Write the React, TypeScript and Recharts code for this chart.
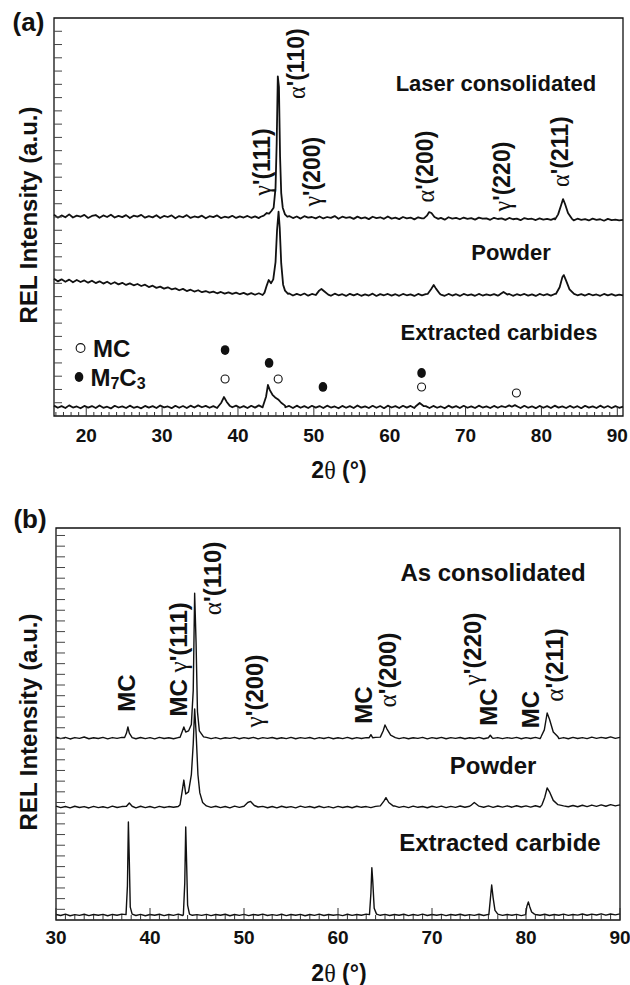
import React from "react";
import { ComposedChart, Line, Scatter, XAxis, YAxis, ReferenceArea } from "recharts";

const SANS = '"Liberation Sans", Arial, Helvetica, sans-serif';
const SERIF = '"Liberation Serif", "Times New Roman", Times, serif';
const INK = "#111";
const STEP = 0.5;

// ---------- panel (a) ----------
const A_DOMAIN: [number, number] = [15.75, 90.75];
const A_Y_MAX = 30;
const A_X0 = 15.75;
const aXLabels = [20, 30, 40, 50, 60, 70, 80, 90];

const laserBase = [
  15.18, 14.95, 15.12, 14.98, 15.2, 14.96, 15.1, 15.02, 15.16, 14.93,
  15.08, 15.15, 14.94, 15.12, 15.0, 15.17, 14.96, 15.09, 14.99, 15.14,
  14.92, 15.1, 15.03, 15.16, 14.95, 15.06, 14.97, 15.13, 14.92, 15.08,
  15.0, 15.12, 14.9, 15.07, 14.98, 15.14, 14.93, 15.04, 14.97, 15.1,
  14.9, 15.06, 14.99, 15.12, 14.92, 15.02, 14.95, 15.09, 14.93, 15.05,
  14.96, 15.08, 14.94, 15.05, 14.92, 15.06, 14.95, 15.07, 14.9, 15.04,
  15.02, 14.9, 15.07, 14.92, 15.04, 14.88, 15.06, 14.95, 15.0, 14.9,
  15.04, 14.89, 15.0, 14.93, 15.07, 14.87, 15.02, 14.94, 14.99, 14.86,
  15.03, 14.9, 14.97, 14.84, 15.02, 14.92, 14.98, 14.86, 15.04, 14.88,
  14.95, 14.84, 15.0, 14.9, 14.96, 14.82, 14.98, 14.9, 15.0, 14.9,
  14.97, 14.85, 14.93, 14.8, 14.98, 14.88, 14.94, 14.83, 14.96, 14.86,
  14.91, 14.8, 14.95, 14.87, 14.9, 14.79, 14.94, 14.85, 14.9, 14.78,
  14.93, 14.83, 14.88, 14.76, 14.92, 14.84, 14.87, 14.77, 14.9, 14.8,
  14.86, 14.78, 14.9, 14.8, 14.9, 14.8, 14.88, 14.75, 14.87, 14.79,
  14.84, 14.74, 14.88, 14.79, 14.83, 14.72, 14.86, 14.77, 14.8, 14.74,
  14.78,
];
const laserPeaks = [
  [[43.0, 15.02], [43.4, 15.1], [43.8, 15.3], [44.1, 15.25], [44.4, 15.45], [44.7, 15.7], [44.95, 17.2], [45.1, 20.5], [45.25, 25.6], [45.4, 24.8], [45.55, 19.5], [45.7, 16.8], [45.9, 15.7], [46.2, 15.2], [46.5, 15.02]],
  [[64.5, 14.9], [64.9, 15.1], [65.2, 15.37], [65.5, 15.3], [65.9, 15.0], [66.4, 14.86]],
  [[81.8, 14.82], [82.2, 15.2], [82.6, 15.9], [82.85, 16.35], [83.1, 16.0], [83.5, 15.3], [84.0, 14.88]],
];

const powderBaseA = [
  10.35, 10.15, 10.3, 10.12, 10.28, 10.08, 10.25, 10.1, 10.22, 10.05,
  10.2, 10.02, 10.15, 9.98, 10.12, 9.95, 10.08, 9.92, 10.04, 9.88,
  10.0, 9.85, 9.95, 9.8, 9.9, 9.72, 9.82, 9.66, 9.75, 9.6,
  9.7, 9.55, 9.62, 9.48, 9.58, 9.42, 9.52, 9.38, 9.48, 9.33,
  9.42, 9.3, 9.38, 9.25, 9.35, 9.22, 9.32, 9.2, 9.3, 9.18,
  9.28, 9.15, 9.26, 9.14, 9.25, 9.12, 9.24, 9.1, 9.22, 9.12,
  9.22, 9.1, 9.24, 9.08, 9.2, 9.1, 9.23, 9.07, 9.2, 9.12,
  9.22, 9.08, 9.19, 9.06, 9.22, 9.1, 9.18, 9.05, 9.21, 9.09,
  9.2, 9.06, 9.17, 9.08, 9.22, 9.05, 9.19, 9.1, 9.2, 9.07,
  9.18, 9.06, 9.2, 9.1, 9.17, 9.05, 9.2, 9.09, 9.18, 9.08,
  9.2, 9.07, 9.15, 9.06, 9.2, 9.08, 9.18, 9.05, 9.2, 9.1,
  9.17, 9.06, 9.2, 9.08, 9.16, 9.1, 9.18, 9.07, 9.19, 9.1,
  9.2, 9.06, 9.18, 9.1, 9.2, 9.07, 9.17, 9.05, 9.2, 9.1,
  9.18, 9.07, 9.2, 9.08, 9.17, 9.06, 9.19, 9.08, 9.1, 9.18,
  9.08, 9.2, 9.1, 9.16, 9.06, 9.2, 9.09, 9.18, 9.07, 9.15,
  9.1,
];
const powderPeaksA = [
  [[43.5, 9.3], [43.8, 9.85], [44.05, 10.25], [44.35, 10.0], [44.65, 10.3], [44.95, 11.6], [45.15, 14.0], [45.35, 15.4], [45.5, 14.2], [45.7, 11.5], [45.95, 9.9], [46.2, 9.45], [46.6, 9.2]],
  [[50.3, 9.15], [50.7, 9.45], [51.0, 9.57], [51.4, 9.38], [51.9, 9.15]],
  [[65.0, 9.2], [65.45, 9.55], [65.8, 9.87], [66.1, 9.6], [66.6, 9.22]],
  [[74.5, 9.15], [75.0, 9.35], [75.5, 9.15]],
  [[81.9, 9.2], [82.4, 9.7], [82.75, 10.45], [82.95, 10.62], [83.25, 10.2], [83.7, 9.55], [84.3, 9.2]],
];

const carbideBaseA = [
  0.78, 0.62, 0.74, 0.6, 0.8, 0.64, 0.72, 0.58, 0.76, 0.63,
  0.75, 0.6, 0.79, 0.62, 0.7, 0.57, 0.77, 0.64, 0.73, 0.6,
  0.78, 0.62, 0.7, 0.58, 0.76, 0.63, 0.74, 0.6, 0.79, 0.65,
  0.72, 0.59, 0.77, 0.62, 0.75, 0.6, 0.78, 0.64, 0.8, 0.66,
  0.76, 0.62, 0.74, 0.6, 0.78, 0.63, 0.75, 0.66, 0.78, 0.62,
  0.74, 0.6, 0.77, 0.63, 0.8, 0.65, 0.73, 0.6, 0.76, 0.62,
  0.8, 0.66, 0.76, 0.6, 0.78, 0.62, 0.74, 0.6, 0.77, 0.63,
  0.75, 0.6, 0.78, 0.64, 0.72, 0.58, 0.76, 0.62, 0.74, 0.6,
  0.79, 0.63, 0.73, 0.6, 0.77, 0.62, 0.75, 0.59, 0.78, 0.64,
  0.74, 0.6, 0.77, 0.63, 0.76, 0.6, 0.75, 0.62, 0.74, 0.6,
  0.76, 0.62, 0.72, 0.58, 0.78, 0.63, 0.74, 0.6, 0.77, 0.62,
  0.73, 0.6, 0.78, 0.64, 0.72, 0.6, 0.76, 0.62, 0.75, 0.66,
  0.8, 0.68, 0.74, 0.6, 0.77, 0.62, 0.73, 0.59, 0.76, 0.62,
  0.74, 0.6, 0.78, 0.63, 0.72, 0.6, 0.76, 0.62, 0.74, 0.59,
  0.77, 0.63, 0.73, 0.6, 0.78, 0.62, 0.75, 0.6, 0.74, 0.62,
  0.7,
];
const carbidePeaksA = [
  [[37.4, 0.72], [37.8, 1.0], [38.15, 1.43], [38.5, 1.08], [38.9, 0.78]],
  [[43.3, 0.75], [43.7, 1.45], [43.95, 2.34], [44.2, 1.95], [44.55, 1.6], [44.9, 1.4], [45.3, 1.25], [45.7, 1.0], [46.2, 0.78]],
  [[63.4, 0.72], [63.95, 0.98], [64.5, 0.74]],
  [[76.1, 0.7], [76.5, 0.82], [76.9, 0.7]],
];

// carbide phase markers over the extracted-carbide trace
const mcMarkersA = [
  { x: 38.3, y: 2.79 },
  { x: 45.3, y: 2.79 },
  { x: 64.2, y: 2.19 },
  { x: 76.7, y: 1.73 },
];
const m7c3MarkersA = [
  { x: 38.3, y: 4.97 },
  { x: 44.1, y: 4.0 },
  { x: 51.2, y: 2.19 },
  { x: 64.2, y: 3.24 },
];
const legendMarkersA = [
  { x: 19.25, y: 5.12, filled: false },
  { x: 19.05, y: 2.94, filled: true },
];
const legendTextA = [
  { x: 20.9, y: 5.12, text: "MC" },
  { x: 20.55, y: 2.94, text: "M7C3" },
];

const peakLabelsA = [
  { x: 43.15, y: 19.14, text: "γ'(111)" },
  { x: 47.6, y: 26.56, text: "α'(110)" },
  { x: 49.75, y: 18.42, text: "γ'(200)" },
  { x: 64.65, y: 18.8, text: "α'(200)" },
  { x: 74.8, y: 18.05, text: "γ'(220)" },
  { x: 82.45, y: 19.93, text: "α'(211)" },
];
const sampleLabelsA = [
  { x: 74.0, y: 25.1, text: "Laser consolidated" },
  { x: 76.0, y: 12.36, text: "Powder" },
  { x: 74.4, y: 6.33, text: "Extracted carbides" },
];

// ---------- panel (b) ----------
const B_DOMAIN: [number, number] = [30, 90];
const B_Y_MAX = 36.7;
const B_X0 = 30;
const bXLabels = [30, 40, 50, 60, 70, 80, 90];

const acBase = [
  17.12, 16.98, 17.1, 16.95, 17.08, 17.0, 17.13, 16.97, 17.06, 16.99,
  17.1, 16.96, 17.08, 17.0, 17.1, 16.98, 17.05, 16.97, 17.09, 16.98,
  17.07, 16.96, 17.1, 16.99, 17.06, 16.97, 17.08, 16.98, 17.1, 16.97,
  17.08, 16.98, 17.1, 16.98, 17.08, 16.96, 17.06, 17.0, 17.1, 16.97,
  17.08, 16.99, 17.1, 16.96, 17.07, 17.0, 17.09, 16.97, 17.06, 16.98,
  17.1, 16.97, 17.07, 17.0, 17.09, 16.96, 17.08, 16.99, 17.1, 16.97,
  17.06, 16.98, 17.1, 16.97, 17.08, 16.99, 17.07, 16.98, 17.1, 16.97,
  17.08, 16.98, 17.1, 16.98, 17.08, 16.97, 17.06, 17.0, 17.1, 16.96,
  17.08, 16.99, 17.1, 16.97, 17.07, 17.0, 17.09, 16.97, 17.06, 16.99,
  17.1, 16.97, 17.08, 17.0, 17.08, 16.98, 17.07, 17.0, 17.1, 16.97,
  17.08, 16.99, 17.1, 16.98, 17.07, 16.97, 17.1, 16.98, 17.08, 16.97,
  17.1, 16.99, 17.07, 16.98, 17.12, 17.0, 17.1, 17.02, 17.14, 17.0,
  17.1,
];
const acPeaks = [
  [[37.3, 17.08], [37.5, 17.5], [37.65, 18.07], [37.8, 17.5], [38.1, 17.08]],
  [[43.2, 17.1], [43.45, 17.7], [43.6, 18.07], [43.8, 17.6], [44.1, 17.7], [44.4, 18.3], [44.6, 21.5], [44.75, 30.6], [44.9, 26.0], [45.05, 19.5], [45.25, 17.7], [45.7, 17.15]],
  [[63.3, 17.06], [63.5, 17.35], [63.7, 17.06]],
  [[64.5, 17.12], [64.8, 17.7], [65.0, 18.26], [65.2, 17.9], [65.6, 17.3], [66.1, 17.08]],
  [[76.0, 17.06], [76.2, 17.3], [76.4, 17.06]],
  [[81.6, 17.15], [81.95, 17.8], [82.25, 19.38], [82.5, 18.8], [82.9, 17.6], [83.4, 17.15]],
];

const pbBase = [
  10.66, 10.52, 10.63, 10.5, 10.65, 10.53, 10.62, 10.49, 10.64, 10.52,
  10.6, 10.5, 10.66, 10.53, 10.62, 10.51, 10.6, 10.5, 10.65, 10.52,
  10.63, 10.5, 10.64, 10.53, 10.62, 10.55, 10.63, 10.52, 10.64, 10.53,
  10.62, 10.54, 10.65, 10.55, 10.65, 10.52, 10.63, 10.5, 10.66, 10.54,
  10.64, 10.52, 10.65, 10.55, 10.64, 10.51, 10.63, 10.5, 10.65, 10.53,
  10.62, 10.5, 10.66, 10.54, 10.63, 10.51, 10.65, 10.52, 10.62, 10.5,
  10.64, 10.53, 10.63, 10.51, 10.65, 10.55, 10.62, 10.52, 10.64, 10.53,
  10.65, 10.53, 10.68, 10.54, 10.64, 10.52, 10.66, 10.55, 10.63, 10.51,
  10.65, 10.54, 10.66, 10.52, 10.64, 10.55, 10.67, 10.56, 10.65, 10.55,
  10.66, 10.56, 10.68, 10.55, 10.67, 10.57, 10.69, 10.56, 10.7, 10.58,
  10.68, 10.57, 10.7, 10.58, 10.69, 10.57, 10.7, 10.59, 10.7, 10.6,
  10.72, 10.6, 10.74, 10.62, 10.76, 10.64, 10.78, 10.65, 10.8, 10.68,
  10.78,
];
const pbPeaks = [
  [[37.5, 10.65], [37.8, 10.95], [38.1, 10.65]],
  [[43.2, 10.8], [43.45, 12.2], [43.6, 13.1], [43.8, 11.8], [44.1, 12.0], [44.4, 13.6], [44.6, 16.5], [44.75, 19.76], [44.9, 17.6], [45.1, 13.6], [45.3, 11.9], [45.6, 11.0], [46.0, 10.68]],
  [[50.0, 10.65], [50.4, 11.0], [50.7, 11.1], [51.1, 10.72], [51.5, 10.58]],
  [[64.5, 10.68], [64.9, 11.15], [65.1, 11.45], [65.4, 11.0], [65.9, 10.66]],
  [[74.1, 10.7], [74.5, 11.0], [74.9, 10.72]],
  [[81.7, 10.78], [82.0, 11.5], [82.25, 12.36], [82.5, 12.0], [82.9, 11.2], [83.4, 10.8], [84.0, 10.68]],
];

const ebBase = [
  0.52, 0.42, 0.55, 0.4, 0.5, 0.43, 0.54, 0.41, 0.51, 0.44,
  0.53, 0.4, 0.52, 0.45, 0.55, 0.42, 0.5, 0.42, 0.53, 0.4,
  0.51, 0.44, 0.54, 0.41, 0.52, 0.43, 0.55, 0.42, 0.52, 0.44,
  0.5, 0.43, 0.53, 0.41, 0.52, 0.44, 0.54, 0.4, 0.51, 0.43,
  0.53, 0.41, 0.52, 0.44, 0.55, 0.42, 0.5, 0.43, 0.54, 0.41,
  0.52, 0.44, 0.53, 0.4, 0.51, 0.43, 0.55, 0.42, 0.52, 0.44,
  0.5, 0.41, 0.54, 0.43, 0.52, 0.45, 0.55, 0.42, 0.53, 0.44,
  0.53, 0.42, 0.51, 0.44, 0.54, 0.41, 0.52, 0.43, 0.55, 0.42,
  0.51, 0.44, 0.53, 0.41, 0.52, 0.45, 0.54, 0.42, 0.5, 0.43,
  0.54, 0.42, 0.53, 0.44, 0.52, 0.43, 0.52, 0.44, 0.53, 0.41,
  0.55, 0.43, 0.52, 0.44, 0.54, 0.42, 0.51, 0.45, 0.55, 0.43,
  0.52, 0.46, 0.56, 0.44, 0.55, 0.47, 0.58, 0.45, 0.56, 0.48,
  0.57,
];
const ebPeaks = [
  [[37.45, 0.5], [37.6, 3.2], [37.7, 9.18], [37.8, 5.5], [37.9, 1.2], [38.1, 0.55]],
  [[43.55, 0.5], [43.7, 3.5], [43.8, 8.7], [43.9, 5.2], [44.0, 1.4], [44.2, 0.55]],
  [[63.35, 0.5], [63.5, 2.5], [63.6, 4.9], [63.7, 3.6], [63.85, 1.1], [64.1, 0.55]],
  [[76.05, 0.5], [76.2, 1.9], [76.35, 3.28], [76.5, 2.1], [76.7, 0.9], [77.0, 0.55]],
  [[79.95, 0.5], [80.1, 1.3], [80.25, 1.69], [80.4, 1.25], [80.6, 0.75], [80.9, 0.55]],
];

const peakLabelsB = [
  { x: 37.45, y: 21.25, text: "MC" },
  { x: 42.98, y: 24.4, text: "MC γ'(111)" },
  { x: 46.6, y: 31.98, text: "α'(110)" },
  { x: 51.06, y: 21.44, text: "γ'(200)" },
  { x: 62.66, y: 20.13, text: "MC" },
  { x: 65.21, y: 23.4, text: "α'(200)" },
  { x: 74.26, y: 25.37, text: "γ'(220)" },
  { x: 75.96, y: 19.94, text: "MC" },
  { x: 80.43, y: 19.71, text: "MC" },
  { x: 82.98, y: 23.88, text: "α'(211)" },
];
const sampleLabelsB = [
  { x: 76.5, y: 32.49, text: "As consolidated" },
  { x: 76.5, y: 14.51, text: "Powder" },
  { x: 77.23, y: 7.3, text: "Extracted carbide" },
];

// ---------- helpers ----------
type Pt = { x: number; y: number };

function buildTrace(x0: number, base: number[], peaks: number[][][]): Pt[] {
  const ranges = peaks.map((seg) => [seg[0][0], seg[seg.length - 1][0]]);
  const pts: Pt[] = base
    .map((y, i) => ({ x: x0 + i * STEP, y }))
    .filter((p) => !ranges.some(([a, b]) => p.x >= a && p.x <= b));
  peaks.forEach((seg) => seg.forEach(([x, y]) => pts.push({ x, y })));
  return pts.sort((p, q) => p.x - q.x);
}

function intRange(from: number, to: number) {
  const out: number[] = [];
  for (let v = from; v <= to; v++) out.push(v);
  return out;
}

function textParts(text: string, size: number) {
  return text
    .split(/([αγθ])/)
    .filter(Boolean)
    .map((t, i) =>
      /[αγθ]/.test(t) ? (
        <tspan key={i} fontFamily={SERIF} fontWeight="normal" fontSize={size * 1.05}>
          {t}
        </tspan>
      ) : (
        <tspan key={i} fontFamily={SANS} fontWeight="bold">
          {t}
        </tspan>
      )
    );
}

function XTick(props: any) {
  const { x, y, payload, majorLen, minorLen, labelDy, labels } = props;
  const v = payload.value;
  const major = labels.includes(v);
  return (
    <g>
      <line x1={x} x2={x} y1={y} y2={y - (major ? majorLen : minorLen)} stroke="#333" strokeWidth={1} />
      {major && (
        <text
          x={x}
          y={y + labelDy}
          textAnchor="middle"
          dominantBaseline="central"
          fontFamily={SANS}
          fontWeight="bold"
          fontSize={19}
          fill={INK}
        >
          {v}
        </text>
      )}
    </g>
  );
}

function YTick(props: any) {
  const { x, y, len } = props;
  return <line x1={x} x2={x + len} y1={y} y2={y} stroke="#444" strokeWidth={1} />;
}

function RotLabel(props: any) {
  const { cx, cy, payload, size } = props;
  return (
    <text
      transform={`rotate(-90 ${cx} ${cy})`}
      x={cx}
      y={cy}
      textAnchor="middle"
      dominantBaseline="central"
      fontSize={size}
      fill={INK}
    >
      {textParts(payload.text, size)}
    </text>
  );
}

function FlatLabel(props: any) {
  const { cx, cy, payload, size } = props;
  return (
    <text
      x={cx}
      y={cy}
      textAnchor="middle"
      dominantBaseline="central"
      fontFamily={SANS}
      fontWeight="bold"
      fontSize={size}
      fill={INK}
    >
      {payload.text}
    </text>
  );
}

function LegendText(props: any) {
  const { cx, cy, payload } = props;
  const bits = payload.text.split(/(\d)/).filter(Boolean);
  return (
    <text x={cx} y={cy} dominantBaseline="central" fontFamily={SANS} fontWeight="bold" fontSize={24} fill={INK}>
      {bits.map((b: string, i: number) =>
        /\d/.test(b) ? (
          <tspan key={i} fontSize={16} dy={6}>
            {b}
          </tspan>
        ) : (
          <tspan key={i} dy={i === 0 ? 0 : -6}>
            {b}
          </tspan>
        )
      )}
    </text>
  );
}

const OpenMark = (p: any) => <circle cx={p.cx} cy={p.cy} r={4} fill="#fff" stroke={INK} strokeWidth={1.1} />;
const FilledMark = (p: any) => <ellipse cx={p.cx} cy={p.cy} rx={4.3} ry={4.9} fill={INK} />;
const LegendMark = (p: any) =>
  p.payload.filled ? (
    <ellipse cx={p.cx} cy={p.cy} rx={4.3} ry={5} fill={INK} />
  ) : (
    <circle cx={p.cx} cy={p.cy} r={4.4} fill="#fff" stroke={INK} strokeWidth={1.1} />
  );

const laserA = buildTrace(A_X0, laserBase, laserPeaks);
const powderA = buildTrace(A_X0, powderBaseA, powderPeaksA);
const carbideA = buildTrace(A_X0, carbideBaseA, carbidePeaksA);
const consolidatedB = buildTrace(B_X0, acBase, acPeaks);
const powderB = buildTrace(B_X0, pbBase, pbPeaks);
const carbideB = buildTrace(B_X0, ebBase, ebPeaks);

const traceProps = {
  type: "linear" as const,
  dataKey: "y",
  stroke: INK,
  dot: false,
  activeDot: false,
  isAnimationActive: false,
  strokeLinejoin: "round" as const,
};

function PanelA() {
  return (
    <ComposedChart width={630} height={480} margin={{ top: 18, right: 7, bottom: 34, left: 53 }}>
      <XAxis
        type="number"
        dataKey="x"
        domain={A_DOMAIN}
        ticks={intRange(16, 90)}
        interval={0}
        axisLine={false}
        tickLine={false}
        tickSize={0}
        tickMargin={0}
        height={30}
        tick={(p: any) => <XTick {...p} labels={aXLabels} majorLen={9} minorLen={4} labelDy={19} />}
      />
      <YAxis
        type="number"
        dataKey="y"
        domain={[0, A_Y_MAX]}
        ticks={intRange(1, A_Y_MAX - 1)}
        interval={0}
        axisLine={false}
        tickLine={false}
        tickSize={0}
        tickMargin={0}
        width={1}
        tick={(p: any) => <YTick {...p} len={8} />}
      />
      <ReferenceArea x1={A_DOMAIN[0]} x2={A_DOMAIN[1]} y1={0} y2={A_Y_MAX} fill="none" stroke={INK} strokeWidth={1.3} />
      <Line {...traceProps} strokeWidth={1.8} data={laserA} />
      <Line {...traceProps} strokeWidth={1.8} data={powderA} />
      <Line {...traceProps} strokeWidth={1.8} data={carbideA} />
      <Scatter data={mcMarkersA} dataKey="y" shape={OpenMark} isAnimationActive={false} />
      <Scatter data={m7c3MarkersA} dataKey="y" shape={FilledMark} isAnimationActive={false} />
      <Scatter data={legendMarkersA} dataKey="y" shape={LegendMark} isAnimationActive={false} />
      <Scatter data={legendTextA} dataKey="y" shape={(p: any) => <LegendText {...p} />} isAnimationActive={false} />
      <Scatter data={peakLabelsA} dataKey="y" shape={(p: any) => <RotLabel {...p} size={23} />} isAnimationActive={false} />
      <Scatter data={sampleLabelsA} dataKey="y" shape={(p: any) => <FlatLabel {...p} size={22} />} isAnimationActive={false} />
    </ComposedChart>
  );
}

function PanelB() {
  return (
    <ComposedChart width={630} height={495} margin={{ top: 38, right: 10, bottom: 35, left: 55 }}>
      <XAxis
        type="number"
        dataKey="x"
        domain={B_DOMAIN}
        ticks={intRange(30, 90)}
        interval={0}
        axisLine={false}
        tickLine={false}
        tickSize={0}
        tickMargin={0}
        height={30}
        tick={(p: any) => <XTick {...p} labels={bXLabels} majorLen={12} minorLen={5} labelDy={17} />}
      />
      <YAxis
        type="number"
        dataKey="y"
        domain={[0, B_Y_MAX]}
        ticks={intRange(1, 36)}
        interval={0}
        axisLine={false}
        tickLine={false}
        tickSize={0}
        tickMargin={0}
        width={1}
        tick={(p: any) => <YTick {...p} len={9} />}
      />
      <ReferenceArea x1={B_DOMAIN[0]} x2={B_DOMAIN[1]} y1={0} y2={B_Y_MAX} fill="none" stroke={INK} strokeWidth={1.3} />
      <Line {...traceProps} strokeWidth={1.4} data={consolidatedB} />
      <Line {...traceProps} strokeWidth={1.4} data={powderB} />
      <Line {...traceProps} strokeWidth={1.4} data={carbideB} />
      <Scatter data={peakLabelsB} dataKey="y" shape={(p: any) => <RotLabel {...p} size={24} />} isAnimationActive={false} />
      <Scatter data={sampleLabelsB} dataKey="y" shape={(p: any) => <FlatLabel {...p} size={24} />} isAnimationActive={false} />
    </ComposedChart>
  );
}

function AxisTitle({ x, y }: { x: number; y: number }) {
  return (
    <text x={x} y={y} textAnchor="middle" dominantBaseline="central" fontSize={23} fill={INK}>
      {textParts("2θ (°)", 23)}
    </text>
  );
}

function YTitle({ x, y }: { x: number; y: number }) {
  return (
    <text
      transform={`rotate(-90 ${x} ${y})`}
      x={x}
      y={y}
      textAnchor="middle"
      dominantBaseline="central"
      fontFamily={SANS}
      fontWeight="bold"
      fontSize={24}
      fill={INK}
    >
      REL Intensity (a.u.)
    </text>
  );
}

export default function App() {
  return (
    <div style={{ position: "absolute", left: 0, top: 0, width: 630, height: 985, background: "#fff" }}>
      <div style={{ position: "absolute", left: 0, top: 0 }}>
        <PanelA />
      </div>
      <div style={{ position: "absolute", left: 0, top: 490 }}>
        <PanelB />
      </div>
      <svg width={630} height={985} style={{ position: "absolute", left: 0, top: 0, pointerEvents: "none" }}>
        <text x={28.5} y={22} textAnchor="middle" dominantBaseline="central" fontFamily={SANS} fontWeight="bold" fontSize={26} fill={INK}>
          (a)
        </text>
        <text x={30} y={519} textAnchor="middle" dominantBaseline="central" fontFamily={SANS} fontWeight="bold" fontSize={26} fill={INK}>
          (b)
        </text>
        <AxisTitle x={339} y={470} />
        <AxisTitle x={339} y={973} />
        <YTitle x={28} y={215} />
        <YTitle x={28} y={722} />
      </svg>
    </div>
  );
}
